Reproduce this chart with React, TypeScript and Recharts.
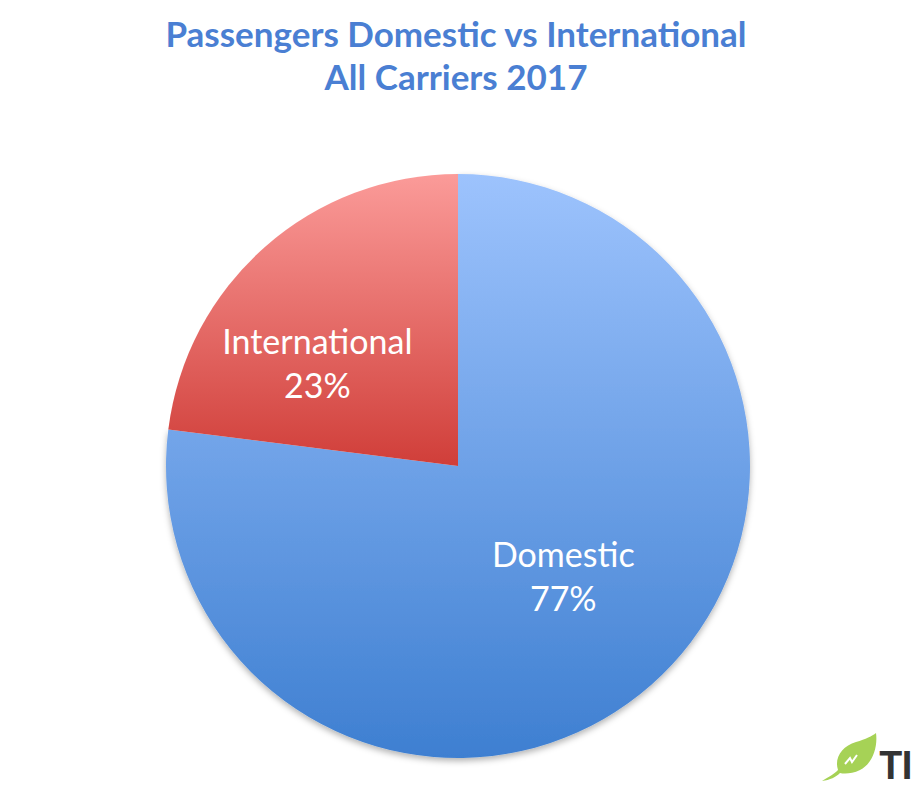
import { PieChart, Pie, Cell } from 'recharts';

const categories = ['Domestic', 'International'];
const shares = [77, 23];
const titleLines = ['Passengers Domestic vs International', 'All Carriers 2017'];

const data = categories.map((name, i) => ({ name, value: shares[i] }));

const gradients: Record<string, [string, string]> = {
  Domestic: ['#9dc3fd', '#3e7fd1'],
  International: ['#fb9b99', '#d03e39'],
};

// nudges so labels sit where the original deck put them
const labelNudge: Record<string, { r: number; dAngle: number }> = {
  Domestic: { r: 0.52, dAngle: 2.5 },
  International: { r: 0.6, dAngle: 12 },
};

const RAD = Math.PI / 180;

function SliceLabel(props: any) {
  const { cx, cy, midAngle, outerRadius, name, percent } = props;
  const n = labelNudge[name] ?? { r: 0.6, dAngle: 0 };
  const a = (midAngle + n.dAngle) * RAD;
  const r = outerRadius * n.r;
  const x = cx + r * Math.cos(a);
  const y = cy - r * Math.sin(a);
  return (
    <text x={x} y={y} fill="#fff" textAnchor="middle" fontFamily="Lato, sans-serif" fontSize={34}>
      <tspan x={x} dy={-8}>{name}</tspan>
      <tspan x={x} dy={44}>{`${Math.round(percent * 100)}%`}</tspan>
    </text>
  );
}

export default function App() {
  return (
    <div style={{ position: 'absolute', left: 0, top: 0, width: 912, height: 808, background: '#fff', overflow: 'hidden' }}>
      <div
        style={{
          position: 'absolute',
          top: 12,
          width: 912,
          textAlign: 'center',
          color: '#4a7fd3',
          fontFamily: 'Lato, sans-serif',
          fontWeight: 700,
          fontSize: 35,
          lineHeight: '43px',
        }}
      >
        {titleLines.map((t) => (
          <div key={t}>{t}</div>
        ))}
      </div>
      <PieChart width={912} height={808} margin={{ top: 0, right: 0, bottom: 0, left: 0 }}>
        <defs>
          {categories.map((c) => (
            <linearGradient key={c} id={`grad-${c}`} x1="0" y1="0" x2="0" y2="1">
              <stop offset="0%" stopColor={gradients[c][0]} />
              <stop offset="100%" stopColor={gradients[c][1]} />
            </linearGradient>
          ))}
          <filter id="pieShadow" x="-10%" y="-10%" width="120%" height="120%">
            <feDropShadow dx="0" dy="3" stdDeviation="3" floodColor="#000" floodOpacity="0.3" />
          </filter>
        </defs>
        <Pie
          data={data}
          dataKey="value"
          nameKey="name"
          cx={458}
          cy={466}
          outerRadius={292}
          startAngle={90}
          endAngle={-270}
          stroke="none"
          labelLine={false}
          label={SliceLabel}
          isAnimationActive={false}
        >
          {data.map((d) => (
            <Cell key={d.name} fill={`url(#grad-${d.name})`} filter={d.name === 'Domestic' ? 'url(#pieShadow)' : undefined} />
          ))}
        </Pie>
      </PieChart>
      <svg style={{ position: 'absolute', left: 816, top: 730 }} width={96} height={60}>
        <path d="M6 51 C14 46 18 44 22 40 C18 28 26 16 40 12 C50 9 56 6 60 3 C62 18 56 34 44 40 C36 44 28 44 24 43 C20 47 14 50 6 51 Z" fill="#a6d256" />
        <path d="M29 34 L34 28 L36 32 L41 25" stroke="#fff" strokeWidth={2} fill="none" />
        <text x={63} y={49} fontFamily="Roboto, sans-serif" fontWeight={700} fontSize={38} letterSpacing={-1} fill="#333">TI</text>
      </svg>
    </div>
  );
}
